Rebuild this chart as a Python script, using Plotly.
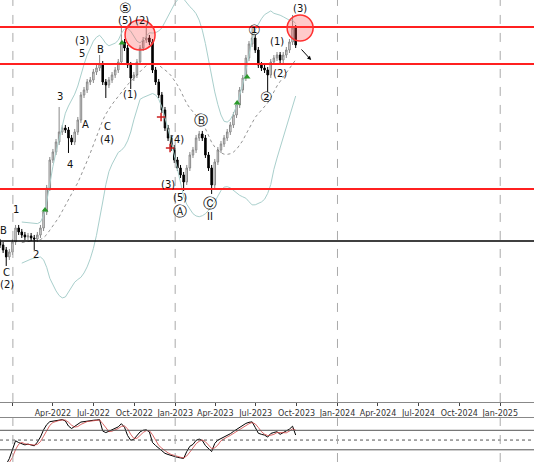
import numpy as np
import pandas as pd
import plotly.graph_objects as go
from plotly.subplots import make_subplots

# weekly closes (price units)
closes = [155, 150, 143, 148, 158, 172, 168, 165, 163, 164, 162, 161, 165, 172, 188, 212,
          240, 248, 258, 268, 272, 270, 262, 258, 268, 280, 305, 310, 318, 320, 328, 332,
          336, 318, 315, 320, 325, 330, 338, 358, 352, 335, 322, 325, 338, 352, 360, 362,
          358, 330, 318, 305, 290, 272, 262, 252, 240, 232, 225, 218, 232, 245, 250, 262,
          266, 262, 245, 232, 215, 238, 250, 256, 262, 268, 275, 285, 295, 310, 322, 342,
          356, 362, 350, 335, 332, 330, 325, 338, 342, 345, 340, 345, 350, 358, 372, 355]
start_date = "2021-12-03"
# extra wick lengths for some weeks
long_highs = {19: 22, 32: 6, 39: 14, 47: 10, 81: 8, 94: 10}
long_lows = {2: 6, 11: 8, 22: 12, 34: 10, 42: 8, 59: 6, 68: 6, 86: 14}

red_levels = [373, 336, 211]
black_level = 159

dates = pd.date_range(start_date, periods=len(closes), freq="7D")
c = np.array(closes, float)
o = np.concatenate([[c[0] + 3], c[:-1]])
h = np.maximum(o, c) + 3
l = np.minimum(o, c) - 3
for k, v in long_highs.items():
    h[k] += v
for k, v in long_lows.items():
    l[k] -= v

s = pd.Series(c, index=dates)
mid = s.rolling(20, min_periods=8).mean()
sd = s.rolling(20, min_periods=8).std()
upper, lower = mid + 2 * sd, mid - 2 * sd

# rsi + signal
diff = s.diff()
gain = diff.clip(lower=0).ewm(alpha=1 / 8, adjust=False).mean()
loss = (-diff.clip(upper=0)).ewm(alpha=1 / 8, adjust=False).mean()
rsi = 100 - 100 / (1 + gain / loss)
rsi_sig = rsi.rolling(3, min_periods=1).mean()

def px_date(x):
    return pd.Timestamp(start_date) + pd.Timedelta(days=x * 2.25)

fig = make_subplots(rows=2, cols=1, shared_xaxes=True)

fig.add_trace(go.Scatter(x=dates, y=upper, mode="lines", line=dict(color="#a9cfcc", width=1)), 1, 1)
fig.add_trace(go.Scatter(x=dates, y=lower, mode="lines", line=dict(color="#a9cfcc", width=1)), 1, 1)
fig.add_trace(go.Scatter(x=dates, y=mid, mode="lines", line=dict(color="#777", width=0.8, dash="dot")), 1, 1)

fig.add_trace(go.Candlestick(x=dates, open=o, high=h, low=l, close=c,
                             increasing=dict(line=dict(color="#888", width=1), fillcolor="#e8e8e8"),
                             decreasing=dict(line=dict(color="#000", width=1), fillcolor="#000"),
                             whiskerwidth=0), 1, 1)

for lv in red_levels:
    fig.add_hline(y=lv, line=dict(color="#ff2020", width=2), row=1, col=1)
fig.add_hline(y=black_level, line=dict(color="#000", width=1.5), row=1, col=1)

# markers
green_x = [45, 122, 237, 247]
green_y = [190, 357, 297, 323]
fig.add_trace(go.Scatter(x=[px_date(v) for v in green_x], y=green_y, mode="markers",
                         marker=dict(symbol="triangle-up", size=6, color="#2a9a2a")), 1, 1)
red_x = [161, 170]
red_y = [283, 252]
fig.add_trace(go.Scatter(x=[px_date(v) for v in red_x], y=red_y, mode="markers",
                         marker=dict(symbol="cross-thin", size=6, line=dict(color="#cc2020", width=1.5))), 1, 1)

# circles
for cx, cy, r in [(140, 365, 15), (300, 372, 13)]:
    fig.add_shape(type="circle", xref="x", yref="y",
                  x0=px_date(cx - r), x1=px_date(cx + r), y0=cy - r, y1=cy + r,
                  line=dict(color="#ff3030", width=1.5), fillcolor="rgba(255,80,80,0.3)")

labels = [("(2)", 7, 285), ("C", 6, 273), ("B", 3, 231), ("1", 16, 210), ("2", 36, 255),
          ("3", 60, 97), ("4", 70, 165), ("(3)", 82, 41), ("5", 82, 54), ("A", 85, 125),
          ("B", 100, 50), ("C", 107, 127), ("(4)", 107, 140), ("⑤", 125, 8), ("(5)", 125, 20),
          ("(2)", 142, 20), ("(1)", 130, 95), ("(4)", 177, 140), ("(3)", 168, 185),
          ("(5)", 180, 198), ("Ⓐ", 180, 211), ("Ⓑ", 201, 120), ("Ⓒ", 210, 203), ("II", 210, 217),
          ("①", 254, 30), ("(1)", 277, 42), ("(2)", 280, 74), ("②", 266, 97), ("(3)", 300, 8)]
for t, x, y in labels:
    big = t in "⑤ⒶⒷⒸ①②"
    fig.add_annotation(x=px_date(x), y=400 - y, text=t, showarrow=False,
                       font=dict(size=14 if big else 10, color="#111", family="DejaVu Sans"),
                       row=1, col=1)

fig.add_annotation(x=px_date(311), y=340, ax=px_date(300), ay=352, xref="x", yref="y",
                   axref="x", ayref="y", showarrow=True, arrowhead=2, arrowsize=0.8,
                   arrowwidth=1, arrowcolor="#000", text="")

fig.add_trace(go.Scatter(x=dates, y=rsi, mode="lines", line=dict(color="#000", width=1)), 2, 1)
fig.add_trace(go.Scatter(x=dates, y=rsi_sig, mode="lines", line=dict(color="#d04040", width=0.8)), 2, 1)
for lv, ds in [(70, "solid"), (50, "dot"), (30, "solid")]:
    fig.add_hline(y=lv, line=dict(color="#555", width=1, dash=ds), row=2, col=1)

xr = [pd.Timestamp("2021-12-03"), pd.Timestamp("2025-03-18")]
tickvals = pd.date_range("2022-01-01", "2025-04-01", freq="QS")
fig.update_xaxes(range=xr, showgrid=False, rangeslider_visible=False, showline=True,
                 linecolor="#888", mirror=True, zeroline=False)
fig.update_xaxes(tickvals=tickvals, tickformat="%b-%Y", ticks="outside", ticklen=3,
                 tickfont=dict(size=8, color="#333", family="DejaVu Sans"),
                 showticklabels=True, row=1, col=1)
fig.update_xaxes(showticklabels=False, row=2, col=1)
for yr in ["2022-01-01", "2023-01-01", "2024-01-01", "2025-01-01"]:
    fig.add_vline(x=pd.Timestamp(yr), line=dict(color="#aaa", width=1, dash="dash"))
fig.update_yaxes(showticklabels=False, showgrid=False, zeroline=False, showline=True,
                 linecolor="#888", mirror=True)
fig.update_yaxes(range=[-2, 400], domain=[0.13, 1], row=1, col=1)
fig.update_yaxes(range=[5, 95], domain=[0, 0.095], row=2, col=1)

fig.update_layout(width=534, height=462, margin=dict(l=0, r=0, t=0, b=0),
                  plot_bgcolor="white", paper_bgcolor="white", showlegend=False)
fig.write_html("out.html", config={"displayModeBar": False},
               post_script="document.body.style.margin='0';")
